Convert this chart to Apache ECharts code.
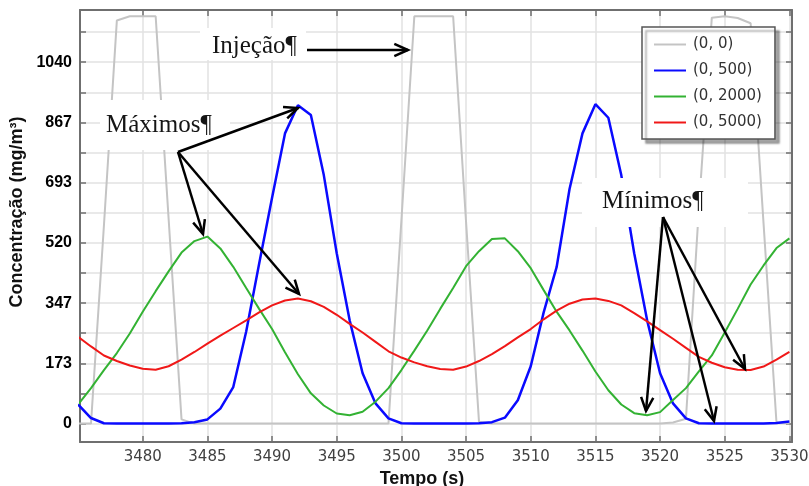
<!DOCTYPE html>
<html><head><meta charset="utf-8">
<script src="https://cdn.jsdelivr.net/npm/echarts@6/dist/echarts.min.js"></script>
<style>html,body{margin:0;padding:0;background:#fff}#c{width:809px;height:486px}</style>
</head><body><div id="c"></div>
<script>
// ---- data ----
const times = [3475,3476,3477,3478,3479,3480,3481,3482,3483,3484,
  3485,3486,3487,3488,3489,3490,3491,3492,3493,3494,
  3495,3496,3497,3498,3499,3500,3501,3502,3503,3504,
  3505,3506,3507,3508,3509,3510,3511,3512,3513,3514,
  3515,3516,3517,3518,3519,3520,3521,3522,3523,3524,
  3525,3526,3527,3528,3529,3530];
const s_0_0 = [0,0,570,1160,1172,1172,1172,590,12,0,
  0,0,0,0,0,0,0,0,0,0,
  0,0,0,0,0,585,1172,1172,1172,1172,
  580,5,0,0,0,0,0,0,0,0,
  0,0,0,0,0,0,3,14,620,1168,
  1172,1167,1152,576,3,0];
const s_0_500 = [55,16,1,0,0,0,0,0,1,4,
  12,43,105,265,460,650,835,916,888,715,
  490,297,145,58,15,1,0,0,0,0,
  0,1,4,17,67,165,320,450,675,835,
  919,880,715,490,297,145,58,15,1,0,
  0,0,0,0,2,6];
const s_0_2000 = [55,102,154,203,259,322,381,438,492,525,
  538,504,451,390,330,272,205,142,87,52,
  29,24,34,63,102,154,210,268,330,390,
  453,496,531,533,496,447,384,322,268,210,
  150,96,55,30,24,33,68,102,150,196,
  262,330,400,455,505,533];
const s_0_5000 = [250,222,196,180,167,158,155,165,184,206,
  230,253,275,297,320,340,354,360,352,336,
  313,287,262,235,208,190,176,165,157,155,
  164,180,200,223,248,272,300,325,345,357,
  360,353,340,318,294,269,244,218,192,175,
  162,155,154,164,184,206];
const seriesNames = ['(0, 0)','(0, 500)','(0, 2000)','(0, 5000)'];
const xTickValues = [3480,3485,3490,3495,3500,3505,3510,3515,3520,3525,3530];
const yLabelValues = [0,1040/6,2080/6,520,4160/6,5200/6,1040];
const yLabelTexts = ['0','173','347','520','693','867','1040'];
const yTickValues = [0,86.667,173.333,260,346.667,433.333,520,606.667,693.333,780,866.667,953.333,1040,1126.667];
const xMin = 3475.15, xMax = 3530.2, yMin = -53, yMax = 1190;

const colors = ['#c4c4c4','#0a0aff','#33b233','#f01818'];
const widths = [2,2.5,2,2];
const allSeries = [s_0_0, s_0_500, s_0_2000, s_0_5000];

const chart = echarts.init(document.getElementById('c'));
const axisCol = '#6f6f6f';
function yLabelFmt(v){
  for (let i=0;i<yLabelValues.length;i++) if (Math.abs(yLabelValues[i]-v)<0.01) return yLabelTexts[i];
  return '';
}
function arrow(x1,y1,x2,y2){
  const ang = Math.atan2(y2-y1,x2-x1), L=15, a=0.42;
  return [
    {type:'line',z:100,shape:{x1:x1,y1:y1,x2:x2,y2:y2},style:{stroke:'#000',lineWidth:2.5}},
    {type:'polyline',z:100,shape:{points:[[x2-L*Math.cos(ang-a),y2-L*Math.sin(ang-a)],[x2,y2],[x2-L*Math.cos(ang+a),y2-L*Math.sin(ang+a)]]},
     style:{stroke:'#000',lineWidth:2.5,fill:null}}
  ];
}
function box(x,y,w,h){return {type:'rect',z:99,shape:{x:x,y:y,width:w,height:h},style:{fill:'#fff'}};}
function label(t,x,y){return {type:'text',z:101,x:x,y:y,style:{text:t,font:'25px "Liberation Serif", "Times New Roman", serif',fill:'#151515',align:'left',verticalAlign:'middle'}};}

const graphics = [].concat(
  [box(200,28,106,32), label('Injeção¶',212,46)],
  arrow(307,50,408,50),
  [box(100,100,130,50), label('Máximos¶',106,125)],
  arrow(178,152,298,108), arrow(178,152,203,234), arrow(178,152,299,294),
  [box(582,178,166,49), label('Mínimos¶',602,201)],
  arrow(663,217,646,411), arrow(663,217,714,421), arrow(663,217,745,369),
  [
    {type:'text',z:101,x:17,y:212,rotation:Math.PI/2,style:{text:'Concentração (mg/m³)',font:'bold 18px "Liberation Sans", Arial, sans-serif',fill:'#111',align:'center',verticalAlign:'middle'}},
    {type:'text',z:101,x:422,y:479,style:{text:'Tempo (s)',font:'bold 18px "Liberation Sans", Arial, sans-serif',fill:'#111',align:'center',verticalAlign:'middle'}}
  ]
);

const xBase = {
  type:'value', min:xMin, max:xMax,
  axisLine:{show:true,onZero:false,lineStyle:{color:axisCol,width:2}},
  axisTick:{show:true,inside:true,length:6,customValues:xTickValues,lineStyle:{color:axisCol,width:1.5}}
};
const yBase = {
  type:'value', min:yMin, max:yMax,
  axisLine:{show:true,onZero:false,lineStyle:{color:axisCol,width:2}},
  axisTick:{show:true,inside:true,length:6,customValues:yTickValues,lineStyle:{color:axisCol,width:1.5}}
};

chart.setOption({
  animation:false,
  backgroundColor:'#fff',
  grid:{left:80,right:17,top:10,bottom:44,containLabel:false,outerBoundsMode:'none'},
  xAxis:[
    Object.assign({},xBase,{position:'bottom',
      axisLabel:{customValues:xTickValues,formatter:v=>String(Math.round(v)),margin:8,fontFamily:'"DejaVu Sans", Verdana, sans-serif',fontSize:15,color:'#404040'},
      splitLine:{show:true,lineStyle:{color:'#e2e2e2',width:1.5}}}),
    Object.assign({},xBase,{position:'top',axisLabel:{show:false},splitLine:{show:false}})
  ],
  yAxis:[
    Object.assign({},yBase,{position:'left',
      axisLabel:{customValues:yLabelValues,formatter:yLabelFmt,margin:8,fontFamily:'"Liberation Sans", Arial, sans-serif',fontWeight:'bold',fontSize:16,color:'#000'},
      splitLine:{show:true,lineStyle:{color:'#e2e2e2',width:1.5}}}),
    Object.assign({},yBase,{position:'right',axisLabel:{show:false},splitLine:{show:false}})
  ],
  legend:{
    orient:'vertical', left:642, top:27, selectedMode:false,
    backgroundColor:'#fff', borderColor:'#555', borderWidth:1.5,
    shadowColor:'rgba(0,0,0,0.35)', shadowOffsetX:4, shadowOffsetY:4, shadowBlur:2,
    padding:[10,13,9,11], itemGap:11, itemWidth:32, itemHeight:14,
    itemStyle:{opacity:0},
    textStyle:{fontFamily:'"DejaVu Sans", Verdana, sans-serif',fontSize:15,color:'#333',padding:[0,0,0,2]},
    data:seriesNames
  },
  series: allSeries.map((arr,i)=>({
    name:seriesNames[i], type:'line', xAxisIndex:0, yAxisIndex:0,
    symbol:'none', smooth:false, clip:true,
    lineStyle:{color:colors[i],width:widths[i]}, itemStyle:{color:colors[i]},
    data: times.map((t,k)=>[t,arr[k]])
  })),
  graphic: graphics
});
</script></body></html>
